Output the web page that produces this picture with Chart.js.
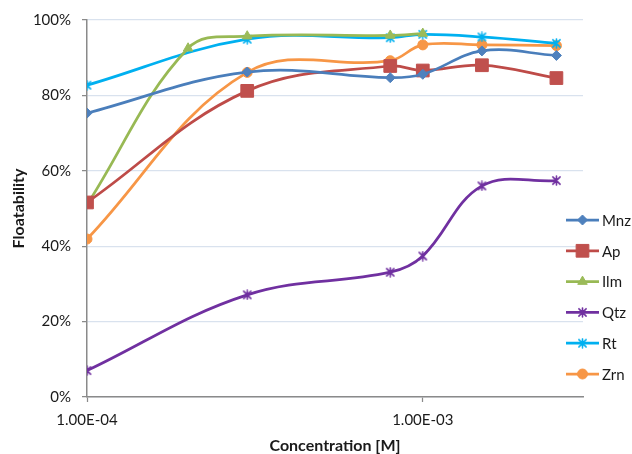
<!DOCTYPE html>
<html>
<head>
<meta charset="utf-8">
<script src="https://cdn.jsdelivr.net/npm/chart.js@4.4.1/dist/chart.umd.min.js"></script>
<style>
  html, body { margin: 0; padding: 0; background: #ffffff; }
  #wrap { width: 632px; height: 454px; }
</style>
</head>
<body>
<div id="wrap"><canvas id="chart" width="632" height="454"></canvas></div>
<script>
// Collector concentration (mol/L) and floatability (%) per mineral
const concentrations = [1e-4, 3e-4, 8e-4, 1e-3, 1.5e-3, 2.5e-3];
const ilmConcentrations = [1e-4, 2e-4, 3e-4, 8e-4, 1e-3];

const mnzValues = [75.3, 86.2, 84.7, 85.6, 91.8, 90.6];
const apValues  = [51.6, 81.2, 87.8, 86.6, 88.0, 84.6];
const ilmValues = [51.0, 92.5, 95.7, 95.9, 96.4];
const qtzValues = [7.0, 27.1, 33.1, 37.4, 56.0, 57.4];
const rtValues  = [82.7, 94.9, 95.3, 96.2, 95.5, 93.8];
const zrnValues = [41.9, 86.1, 89.2, 93.4, 93.4, 93.2];

const seriesNames = ['Mnz', 'Ap', 'Ilm', 'Qtz', 'Rt', 'Zrn'];

const xTickValues = [1e-4, 1e-3];
const xTickLabels = ['1.00E-04', '1.00E-03'];
const yTickValues = [0, 20, 40, 60, 80, 100];

const FONT = 'Lato, "Open Sans", sans-serif';
const TEXT = '#1a1a1a';

// asterisk marker (X with a vertical stroke)
function asterisk(color, size) {
  const c = document.createElement('canvas');
  c.width = size; c.height = size;
  const g = c.getContext('2d');
  const m = size / 2, r = size / 2 - 1;
  g.strokeStyle = color;
  g.lineWidth = 1.6;
  g.lineCap = 'round';
  g.beginPath();
  g.moveTo(m - r * 0.8, m - r * 0.8); g.lineTo(m + r * 0.8, m + r * 0.8);
  g.moveTo(m + r * 0.8, m - r * 0.8); g.lineTo(m - r * 0.8, m + r * 0.8);
  g.moveTo(m, m - r); g.lineTo(m, m + r);
  g.stroke();
  return c;
}

function pts(xs, ys) { return xs.map((x, i) => ({ x: x, y: ys[i] })); }

const styles = [
  { color: '#4a7ebb', marker: '#4f81bd', pointStyle: 'rectRot', radius: 5 },
  { color: '#be4b48', marker: '#c0504d', pointStyle: 'rect', radius: 9 },
  { color: '#98b954', marker: '#9bbb59', pointStyle: 'triangle', radius: 5.5 },
  { color: '#7030a0', marker: '#7030a0', pointStyle: asterisk('#7030a0', 11), radius: 5 },
  { color: '#00b0f0', marker: '#00b0f0', pointStyle: asterisk('#00b0f0', 11), radius: 5 },
  { color: '#f79646', marker: '#f79646', pointStyle: 'circle', radius: 5 }
];

const seriesData = [
  pts(concentrations, mnzValues),
  pts(concentrations, apValues),
  pts(ilmConcentrations, ilmValues),
  pts(concentrations, qtzValues),
  pts(concentrations, rtValues),
  pts(concentrations, zrnValues)
];

const datasets = seriesNames.map((name, i) => ({
  label: name,
  data: seriesData[i],
  borderColor: styles[i].color,
  backgroundColor: styles[i].marker,
  pointBackgroundColor: styles[i].marker,
  pointBorderColor: styles[i].marker,
  pointBorderWidth: 1,
  pointStyle: styles[i].pointStyle,
  pointRadius: styles[i].radius,
  pointHoverRadius: styles[i].radius,
  borderWidth: 2.75,
  tension: 0.38,
  fill: false
}));

// legend on the right: short line with the series marker in the middle
const sideLegend = {
  id: 'sideLegend',
  afterDraw(chart) {
    const ctx = chart.ctx;
    const x0 = 566, x1 = 599, top = 220, step = 30.8;
    chart.data.datasets.forEach((ds, i) => {
      const y = top + i * step;
      ctx.save();
      ctx.strokeStyle = ds.borderColor;
      ctx.lineWidth = ds.borderWidth;
      ctx.beginPath();
      ctx.moveTo(x0, y); ctx.lineTo(x1, y);
      ctx.stroke();
      ctx.fillStyle = ds.pointBackgroundColor;
      ctx.strokeStyle = ds.pointBorderColor;
      ctx.lineWidth = 1;
      Chart.helpers.drawPoint(ctx, { pointStyle: ds.pointStyle, radius: ds.pointRadius, borderWidth: 1, rotation: 0 }, (x0 + x1) / 2, y);
      ctx.fillStyle = TEXT;
      ctx.font = '15px ' + FONT;
      ctx.textAlign = 'left';
      ctx.textBaseline = 'middle';
      ctx.fillText(ds.label, x1 + 3, y + 1);
      ctx.restore();
    });
  }
};

new Chart(document.getElementById('chart'), {
  type: 'line',
  data: { datasets: datasets },
  plugins: [sideLegend],
  options: {
    responsive: false,
    devicePixelRatio: 1,
    animation: false,
    layout: { padding: { top: 20, right: 49, bottom: 0, left: 0 } },
    plugins: {
      legend: { display: false },
      tooltip: { enabled: false }
    },
    scales: {
      x: {
        type: 'logarithmic',
        min: 1e-4,
        max: 3e-3,
        afterBuildTicks(scale) { scale.ticks = xTickValues.map(v => ({ value: v })); },
        afterFit(scale) { scale.height = 57; },
        ticks: {
          autoSkip: false,
          maxRotation: 0,
          padding: 9,
          color: TEXT,
          font: { family: FONT, size: 15 },
          callback(value) { return xTickLabels[xTickValues.indexOf(value)]; }
        },
        grid: { drawOnChartArea: false, drawTicks: true, tickLength: 5, tickColor: '#8a8a8a', tickWidth: 1.25 },
        border: { color: '#8a8a8a', width: 1.5 },
        title: {
          display: true,
          text: 'Concentration [M]',
          color: TEXT,
          font: { family: FONT, size: 16, weight: 'bold', lineHeight: 1 },
          padding: { top: 0, bottom: 0 }
        }
      },
      y: {
        min: 0,
        max: 100,
        afterBuildTicks(scale) { scale.ticks = yTickValues.map(v => ({ value: v })); },
        afterFit(scale) { scale.width = 87; },
        ticks: {
          padding: 11,
          color: TEXT,
          font: { family: FONT, size: 15 },
          callback(value) { return value + '%'; }
        },
        grid: { color: '#d9e2ee', lineWidth: 1.25, drawTicks: true, tickLength: 5, tickColor: '#8a8a8a', tickWidth: 1.25 },
        border: { color: '#8a8a8a', width: 1.5 },
        title: {
          display: true,
          text: 'Floatability',
          color: TEXT,
          font: { family: FONT, size: 16, weight: 'bold', lineHeight: 1 },
          padding: { top: 11, bottom: 0 }
        }
      }
    }
  }
});
</script>
</body>
</html>
